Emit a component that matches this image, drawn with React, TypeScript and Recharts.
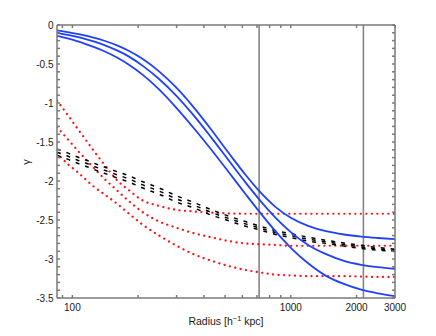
import { LineChart, Line, XAxis, YAxis, ReferenceLine, Label } from "recharts";

// radius grid (h^-1 kpc) the curves are read at
const radius = [85, 95, 105, 115, 125, 140, 160, 180, 210, 250, 300, 360, 430, 520, 620, 716, 850, 1000, 1200, 1450, 1750, 2100, 2500, 3000];

const blueTop = [-0.07, -0.091, -0.113, -0.137, -0.162, -0.202, -0.261, -0.327, -0.436, -0.597, -0.807, -1.059, -1.333, -1.642, -1.92, -2.127, -2.331, -2.472, -2.576, -2.644, -2.686, -2.713, -2.731, -2.746];
const blueMid = [-0.1, -0.126, -0.153, -0.181, -0.21, -0.257, -0.326, -0.399, -0.524, -0.695, -0.911, -1.162, -1.434, -1.738, -2.018, -2.235, -2.468, -2.655, -2.82, -2.938, -3.024, -3.074, -3.105, -3.125];
const blueLow = [-0.14, -0.173, -0.208, -0.244, -0.28, -0.336, -0.417, -0.503, -0.639, -0.828, -1.065, -1.324, -1.59, -1.887, -2.166, -2.39, -2.643, -2.856, -3.055, -3.216, -3.32, -3.394, -3.44, -3.475];

const redTop = [-0.97, -1.15, -1.32, -1.47, -1.61, -1.79, -1.99, -2.11, -2.25, -2.32, -2.37, -2.39, -2.405, -2.415, -2.42, -2.42, -2.42, -2.42, -2.42, -2.42, -2.42, -2.42, -2.42, -2.42];
const redMid = [-1.31, -1.46, -1.6, -1.72, -1.83, -1.97, -2.12, -2.25, -2.4, -2.52, -2.6, -2.67, -2.72, -2.77, -2.8, -2.81, -2.82, -2.83, -2.83, -2.83, -2.83, -2.83, -2.83, -2.83];
const redLow = [-1.64, -1.78, -1.88, -1.98, -2.07, -2.17, -2.29, -2.41, -2.56, -2.7, -2.83, -2.94, -3.02, -3.09, -3.14, -3.17, -3.2, -3.21, -3.22, -3.22, -3.22, -3.225, -3.23, -3.23];

const blackTop = [-1.59, -1.64, -1.69, -1.73, -1.77, -1.82, -1.88, -1.93, -2.01, -2.09, -2.19, -2.275, -2.365, -2.45, -2.52, -2.575, -2.635, -2.675, -2.72, -2.76, -2.795, -2.825, -2.853, -2.875];
const blackMid = [-1.63, -1.68, -1.73, -1.77, -1.81, -1.86, -1.92, -1.97, -2.05, -2.13, -2.23, -2.31, -2.4, -2.48, -2.55, -2.6, -2.66, -2.7, -2.745, -2.78, -2.815, -2.845, -2.87, -2.89];
const blackLow = [-1.67, -1.72, -1.77, -1.81, -1.85, -1.9, -1.96, -2.01, -2.09, -2.17, -2.27, -2.345, -2.435, -2.51, -2.58, -2.625, -2.685, -2.725, -2.77, -2.8, -2.835, -2.865, -2.887, -2.905];

const markerRadii = [716, 2150];

const xTicks = [90, 100, 200, 300, 400, 500, 600, 700, 800, 900, 1000, 2000, 3000];
const xTickLabels = [100, 1000, 2000, 3000];
const yTicks = [
  0, -0.1, -0.2, -0.3, -0.4, -0.5, -0.6, -0.7, -0.8, -0.9,
  -1, -1.1, -1.2, -1.3, -1.4, -1.5, -1.6, -1.7, -1.8, -1.9,
  -2, -2.1, -2.2, -2.3, -2.4, -2.5, -2.6, -2.7, -2.8, -2.9,
  -3, -3.1, -3.2, -3.3, -3.4, -3.5,
];
const yTickLabels = [0, -0.5, -1, -1.5, -2, -2.5, -3, -3.5];

const rows = radius.map((r, i) => ({
  r,
  b1: blueTop[i],
  b2: blueMid[i],
  b3: blueLow[i],
  r1: redTop[i],
  r2: redMid[i],
  r3: redLow[i],
  k1: blackTop[i],
  k2: blackMid[i],
  k3: blackLow[i],
}));

const font = "'Liberation Sans', Arial, Helvetica, sans-serif";
const axisColor = "#7a7a7a";
const tickStyle = { fontSize: 10, fill: "#1a1a1a", fontFamily: font };

const fmtX = (v: number) => (xTickLabels.includes(v) ? String(v) : "");
const fmtY = (v: number) => (yTickLabels.includes(v) ? String(v) : "");
const blank = () => "";

function XTitle() {
  return (
    <text x={218} y={317} textAnchor="middle" fontSize={10.5} fontFamily={font} fill="#1a1a1a">
      Radius [h
      <tspan dy={-4} fontSize={7.5}>−1</tspan>
      <tspan dy={4}> kpc]</tspan>
    </text>
  );
}

function YTitle() {
  return (
    <text x={22} y={154} textAnchor="middle" fontSize={11} fontFamily={font} fill="#1a1a1a" transform="rotate(-90 22 154)">
      γ
    </text>
  );
}

export default function App() {
  return (
    <div style={{ width: 420, height: 320 }}>
      <LineChart width={420} height={320} data={rows} margin={{ top: 16, right: 32, bottom: 0, left: 9 }}>
        <XAxis
          dataKey="r"
          type="number"
          scale="log"
          domain={[85, 3000]}
          allowDataOverflow
          ticks={xTicks}
          interval={0}
          tickFormatter={fmtX}
          tickSize={-3}
          tickMargin={8.5}
          height={30}
          stroke={axisColor}
          strokeWidth={1.5}
          tick={tickStyle}
        >
          <Label content={XTitle} />
        </XAxis>
        <XAxis
          xAxisId="top"
          orientation="top"
          dataKey="r"
          type="number"
          scale="log"
          domain={[85, 3000]}
          allowDataOverflow
          ticks={xTicks}
          interval={0}
          tickFormatter={blank}
          tickSize={-3}
          height={1}
          stroke={axisColor}
          strokeWidth={1.5}
        />
        <YAxis
          type="number"
          domain={[-3.5, 0]}
          allowDataOverflow
          ticks={yTicks}
          interval={0}
          tickFormatter={fmtY}
          tickSize={-3}
          tickMargin={6.5}
          width={40}
          stroke={axisColor}
          strokeWidth={1.5}
          tick={tickStyle}
        >
          <Label content={YTitle} />
        </YAxis>
        <YAxis
          yAxisId="right"
          orientation="right"
          type="number"
          domain={[-3.5, 0]}
          allowDataOverflow
          ticks={yTicks}
          interval={0}
          tickFormatter={blank}
          tickSize={-3}
          width={1}
          stroke={axisColor}
          strokeWidth={1.5}
        />
        {markerRadii.map((x) => (
          <ReferenceLine key={x} x={x} stroke="#858585" strokeWidth={1.6} />
        ))}
        {/* invisible series so the mirrored frame axes get drawn */}
        <Line
          xAxisId="top"
          yAxisId="right"
          dataKey="b1"
          stroke="none"
          dot={false}
          activeDot={false}
          isAnimationActive={false}
        />
        {["r1", "r2", "r3"].map((k) => (
          <Line
            key={k}
            dataKey={k}
            type="monotone"
            stroke="#ff1010"
            strokeWidth={2.2}
            strokeDasharray="0.1 5.4"
            strokeLinecap="round"
            dot={false}
            isAnimationActive={false}
          />
        ))}
        {["k1", "k2", "k3"].map((k) => (
          <Line
            key={k}
            dataKey={k}
            type="monotone"
            stroke="#000000"
            strokeWidth={1.5}
            strokeDasharray="4 6"
            dot={false}
            isAnimationActive={false}
          />
        ))}
        {["b1", "b2", "b3"].map((k) => (
          <Line
            key={k}
            dataKey={k}
            type="monotone"
            stroke="#2040ff"
            strokeWidth={1.8}
            dot={false}
            isAnimationActive={false}
          />
        ))}
      </LineChart>
    </div>
  );
}
